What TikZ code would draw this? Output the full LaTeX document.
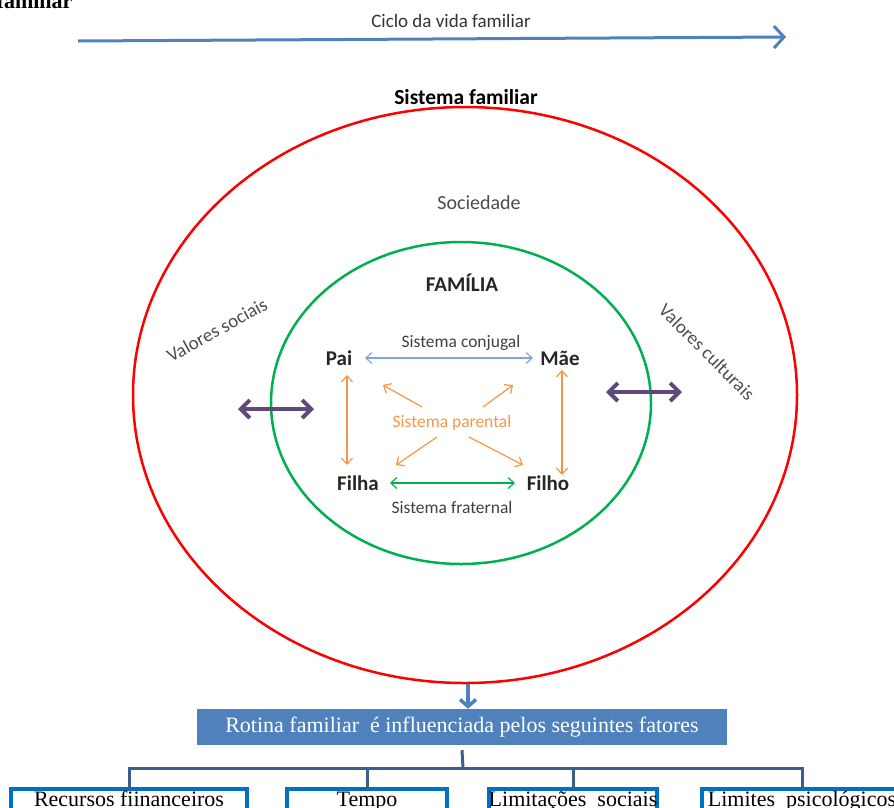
\documentclass[tikz,border=0pt]{standalone}
\usepackage{fontspec}
\setmainfont{Carlito}
\newfontfamily\serifa{Liberation Serif}
\usetikzlibrary{arrows.meta,shapes.geometric}
\definecolor{azul}{HTML}{4F81BD}
\definecolor{azulclaro}{HTML}{7EA6D8}
\definecolor{azulcaixa}{HTML}{0070C0}
\definecolor{azulramo}{HTML}{3A5F8C}
\definecolor{vermelho}{HTML}{FF0000}
\definecolor{verde}{HTML}{00B050}
\definecolor{laranja}{HTML}{F79646}
\definecolor{roxo}{HTML}{5F497A}
\tikzset{
	membro/.style={font=\fontsize{21}{24}\selectfont\bfseries, text=black!85},
	sistema/.style={font=\fontsize{17.5}{20}\selectfont, text=black!75},
	valores/.style={font=\fontsize{19}{22}\selectfont, text=black!70},
	farpa/.style={line width=1.2pt, {Straight Barb[length=6pt,width=11pt]}-{Straight Barb[length=6pt,width=11pt]}},
	seta/.style={line width=1.2pt, -{Straight Barb[length=6pt,width=11pt]}, draw=laranja},
	troca/.style={line width=4pt, draw=roxo, {Straight Barb[length=9pt,width=18pt]}-{Straight Barb[length=9pt,width=18pt]}},
	fator/.style={draw=azulcaixa, line width=4pt, anchor=north, inner xsep=0pt, inner ysep=2pt,
		text height=15pt, text depth=30pt, font=\serifa\fontsize{22}{24}\selectfont},
	ramo/.style={draw=azulramo, line width=3pt}
}
\begin{document}
\begin{tikzpicture}[x=1pt,y=-1pt]
				\useasboundingbox (0,0) rectangle (894,807);
				\node[anchor=base east, font=\serifa\fontsize{22}{24}\selectfont\bfseries] (titulo) at (76,8) {familiar};
				\node[font=\fontsize{19}{22}\selectfont, text=black!80] (ciclo) at (451,21) {Ciclo da vida familiar};
				\draw[azul, line width=3pt, -{Straight Barb[length=10pt,width=22pt]}] (78,41) -- (786,37);
				\node[font=\fontsize{21.5}{24}\selectfont\bfseries] (sisfam) at (466,97) {Sistema familiar};
				\node[draw=vermelho, line width=2.5pt, ellipse, inner sep=0, minimum width=664pt, minimum height=576pt] (sociedade) at (465,395) {};
				\node[draw=verde, line width=2.5pt, ellipse, inner sep=0, minimum width=380pt, minimum height=322pt] (familia) at (461,403) {};
				\node[valores, font=\fontsize{20}{22}\selectfont] (soc) at (479,203) {Sociedade};
				\node[font=\fontsize{21}{24}\selectfont\bfseries, text=black!85] (fam) at (462,283) {FAMÍLIA};
				\node[valores, rotate=29] (vsociais) at (217,330) {Valores sociais};
				\node[valores, rotate=-45] (vculturais) at (707,352) {Valores culturais};
				\node[membro] (pai) at (339,358) {Pai};
				\node[membro] (mae) at (560,358) {Mãe};
				\node[membro] (filha) at (358,483) {Filha};
				\node[membro] (filho) at (548,483) {Filho};
				\node[sistema] (conjugal) at (461,343) {Sistema conjugal};
				\node[sistema, text=laranja] (parental) at (452,423) {Sistema parental};
				\node[sistema] (fraternal) at (452,507) {Sistema fraternal};
				\draw[farpa, draw=azulclaro, shorten <=26pt, shorten >=27pt] (pai.center) -- (mae.center);
				\draw[farpa, draw=verde, shorten <=32pt, shorten >=33pt] (filha.center) -- (filho.center);
				\draw[farpa, draw=laranja, shorten <=17pt, shorten >=18pt] (pai.center -| 347,0) -- (filha.center -| 347,0);
				\draw[farpa, draw=laranja, shorten <=12pt, shorten >=8pt] (mae.center -| 562,0) -- (filho.center -| 562,0);
				\draw[seta] (422,407) -- (383,385);
				\draw[seta] (483,407) -- (513,385);
				\draw[seta] (437,437) -- (396,465);
				\draw[seta] (469,437) -- (523,465);
				\draw[troca] (238,409) -- (314,409);
				\draw[troca] (606,392) -- (682,392);
				\node[fill=azul, text=white, inner sep=0, minimum width=530pt, minimum height=36pt,
					font=\serifa\fontsize{22}{24}\selectfont] (rotina) at (462,727) {Rotina familiar\ \ é influenciada pelos seguintes fatores};
				\draw[azul, line width=3.5pt, -{Straight Barb[length=7pt,width=16pt]}] (sociedade.south -| 468,0) -- (rotina.north -| 468,0);
				\node[fator, minimum width=236pt] (recursos) at (129,787) {Recursos fiinanceiros};
				\node[fator, minimum width=160pt] (tempo) at (367,787) {Tempo};
				\node[fator, minimum width=168pt] (limitacoes) at (573,787) {Limitações\ \ sociais};
				\node[fator, minimum width=200pt] (limites) at (802,787) {Limites\ \ psicológicos};
				\coordinate (galho) at (463,768);
				\draw[ramo] ([yshift=-5pt]rotina.south) -- (galho);
				\foreach \f in {recursos,tempo,limitacoes,limites}
					\draw[ramo] (galho) -| ([yshift=-2pt]\f.north);
			\end{tikzpicture}
\end{document}
